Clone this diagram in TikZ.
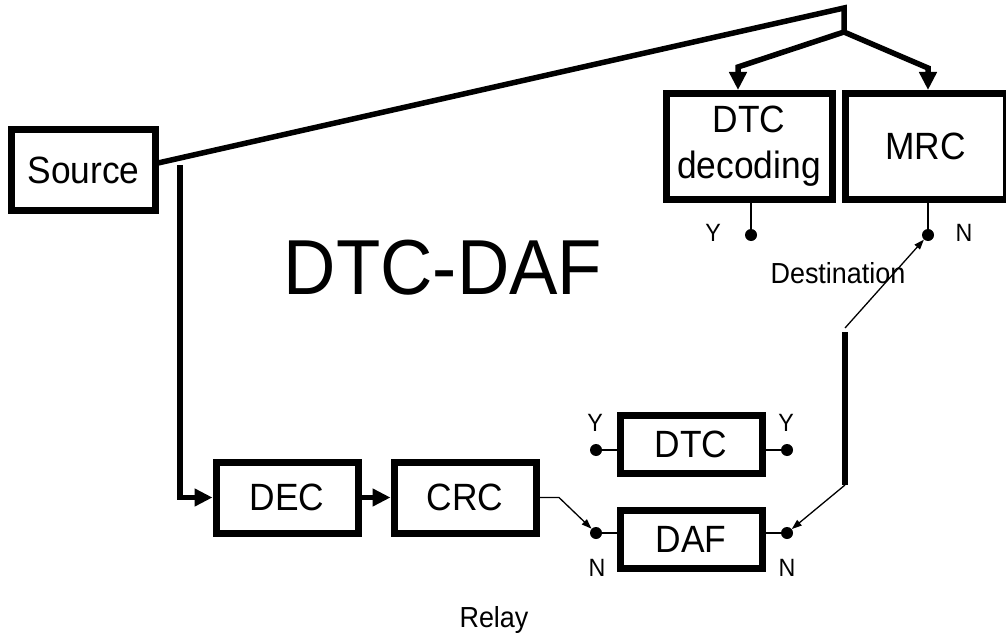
\documentclass[tikz,border=0pt]{standalone}
\usepackage{fontspec}
\setmainfont{Liberation Sans}[FakeStretch=0.93]
\usetikzlibrary{arrows.meta}

\begin{document}
\begin{tikzpicture}[x=1pt,y=-1pt,
  blk/.style={draw, line width=7pt, minimum width=142pt, minimum height=71pt,
    inner sep=0pt, align=center, font=\fontsize{38}{46}\selectfont},
  thickln/.style={line width=5.5pt},
  thinln/.style={line width=1.3pt},
  bigarrow/.style={thickln, -{Triangle[length=18pt,width=17pt]}},
  smallarrow/.style={thinln, -{Triangle[length=10pt,width=7pt]}},
  dot/.style={circle, fill, inner sep=0pt, minimum size=12pt},
  lbl/.style={font=\fontsize{25}{28}\selectfont},
  captxt/.style={font=\fontsize{29}{32}\selectfont}]
\useasboundingbox (0,0) rectangle (1006,639);

% blocks
\node[blk, minimum width=144pt, minimum height=81pt] (src) at (83.5,170) {Source};
\node[blk, minimum width=166pt, minimum height=106pt] (dtcd) at (749,146.5) {DTC\\decoding};
\node[blk, minimum width=161pt, minimum height=106pt] (mrc) at (925.5,146.5) {MRC};
\node[blk] (dec) at (287,497.5) {DEC};
\node[blk] (crc) at (465,497.5) {CRC};
\node[blk, minimum height=58pt] (rdtc) at (691,444.5) {DTC};
\node[blk, minimum height=58pt] (rdaf) at (691,539.5) {DAF};

% title and captions
\node[font=\fontsize{78}{84}\selectfont] (title) at (443,268) {DTC-DAF};
\node[captxt] (dest) at (838,273) {Destination};
\node[captxt] (relay) at (494,620) {Relay};

% switch contacts
\node[dot] (dY) at (751,235) {};
\node[dot] (dN) at (928,235) {};
\node[dot] (rY1) at (596,450) {};
\node[dot] (rY2) at (787,450) {};
\node[dot] (rN1) at (596,533) {};
\node[dot] (rN2) at (787,533) {};

\node[lbl] (ldY) at (713,233) {Y};
\node[lbl] (ldN) at (964,233) {N};
\node[lbl] (lrY1) at (595,423) {Y};
\node[lbl] (lrY2) at (786,423) {Y};
\node[lbl] (lrN1) at (597,568) {N};
\node[lbl] (lrN2) at (787,568) {N};

% broadcast from the source to the destination
\coordinate (s0) at (158,163);
\coordinate (top) at (844,8);
\coordinate (split) at (844,32);
\coordinate (bl) at (738,67);
\coordinate (br) at (928,68);
\draw[thickln] (s0) -- (top) -- (split);
\draw[bigarrow] (split) -- (bl) -- (bl |- dtcd.north);
\draw[bigarrow] (split) -- (br) -- (br |- mrc.north);

% source to relay
\coordinate (s1) at (180,165);
\draw[bigarrow] (s1) -- (s1 |- dec.west) -- (dec.west);
\draw[bigarrow] (dec.east) -- (crc.west);

% CRC result to the DAF input
\coordinate (c1) at (559,497.5);
\draw[smallarrow] (crc.east) -- (c1) -- (rN1);

% stubs between contacts and blocks
\draw[thinln] (dY) -- (dY |- dtcd.south);
\draw[thinln] (dN) -- (dN |- mrc.south);
\draw[thinln] (rY1) -- (rY1 -| rdtc.west);
\draw[thinln] (rY2) -- (rY2 -| rdtc.east);
\draw[thinln] (rN1) -- (rN1 -| rdaf.west);
\draw[thinln] (rN2) -- (rN2 -| rdaf.east);

% relay to destination link
\coordinate (v0) at (845,328);
\coordinate (v1) at (845,332);
\coordinate (v2) at (845,485);
\draw[thickln] (v1) -- (v2);
\draw[smallarrow] (v2) -- (rN2);
\draw[smallarrow] (v0) -- (dN);
\end{tikzpicture}
\end{document}
